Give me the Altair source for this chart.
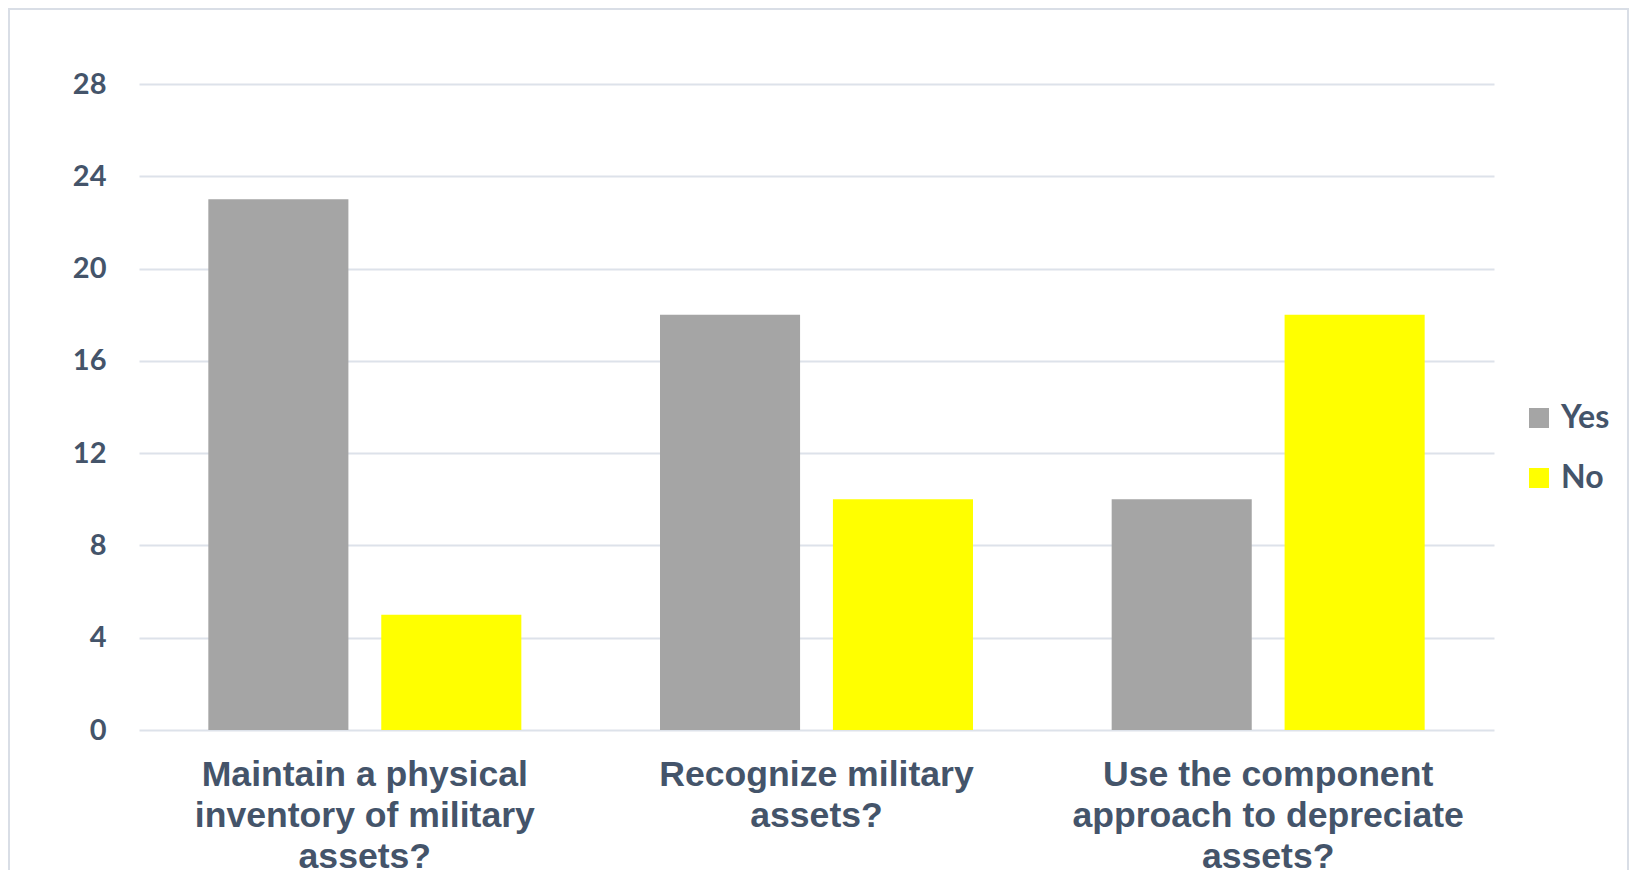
import altair as alt
import pandas as pd

categories = [
    "Maintain a physical inventory of military assets?",
    "Recognize military assets?",
    "Use the component approach to depreciate assets?",
]
label_lines = [
    ["Maintain a physical", "inventory of military", "assets?"],
    ["Recognize military", "assets?"],
    ["Use the component", "approach to depreciate", "assets?"],
]
series = ["Yes", "No"]
yes_values = [23, 18, 10]
no_values = [5, 10, 18]
colors = ["#A5A5A5", "#FFFF00"]
y_ticks = [0, 4, 8, 12, 16, 20, 24, 28]

rows = []
for c, y, n in zip(categories, yes_values, no_values):
    rows.append({"category": c, "series": "Yes", "value": y})
    rows.append({"category": c, "series": "No", "value": n})
df = pd.DataFrame(rows)

TEXT = "#44546A"
GRID = "#DDE2EA"

expr_parts = []
for c, lines in zip(categories, label_lines):
    arr = "[" + ",".join("'" + l + "'" for l in lines) + "]"
    expr_parts.append(f"datum.value == '{c}' ? {arr} : ")
label_expr = "".join(expr_parts) + "datum.value"

W, H = 1355, 646

bars = alt.Chart(df).mark_bar().encode(
    x=alt.X("category:N", sort=categories, title=None,
            scale=alt.Scale(paddingInner=0.307, paddingOuter=0.1535),
            axis=alt.Axis(labelExpr=label_expr, labelAngle=0, ticks=False,
                          domain=False, labelFont="Liberation Sans",
                          labelFontWeight="bold", labelFontSize=35.6,
                          labelColor=TEXT, labelPadding=27, labelLineHeight=41,
                          labelLimit=600, grid=False, labelBaseline="top")),
    xOffset=alt.XOffset("series:N", sort=series,
                        scale=alt.Scale(paddingInner=0.19, paddingOuter=0)),
    y=alt.Y("value:Q", title=None,
            scale=alt.Scale(domain=[0, 28], nice=False),
            axis=alt.Axis(values=y_ticks, ticks=False, domain=False,
                          labelFont="Lato", labelFontWeight="bold",
                          labelFontSize=29, labelColor=TEXT, labelPadding=33,
                          gridColor=GRID, gridWidth=2, gridOpacity=1)),
    color=alt.Color("series:N", sort=series,
                    scale=alt.Scale(domain=series, range=colors),
                    legend=alt.Legend(title=None, orient="none",
                                      legendX=1384, legendY=318,
                                      symbolType="square", symbolSize=400,
                                      symbolStrokeWidth=0,
                                      labelFont="Lato", labelFontWeight="bold",
                                      labelFontSize=32, labelColor=TEXT,
                                      rowPadding=28, labelOffset=6)),
)

frame = alt.Chart(pd.DataFrame({"a": [0]})).mark_rect(
    fill="transparent", stroke="#D9DEE6", strokeWidth=2
).encode(
    x=alt.value(-130), x2=alt.value(1489),
    y=alt.value(-75), y2=alt.value(950),
)

chart = alt.layer(frame, bars).properties(
    width=W, height=H,
    autosize=alt.AutoSizeParams(type="none"),
    padding={"left": 131, "top": 76, "right": 135, "bottom": 140},
).configure(background="white").configure_view(stroke=None, strokeWidth=0)

chart.save("out.html", embed_options={"renderer": "svg", "actions": False})
